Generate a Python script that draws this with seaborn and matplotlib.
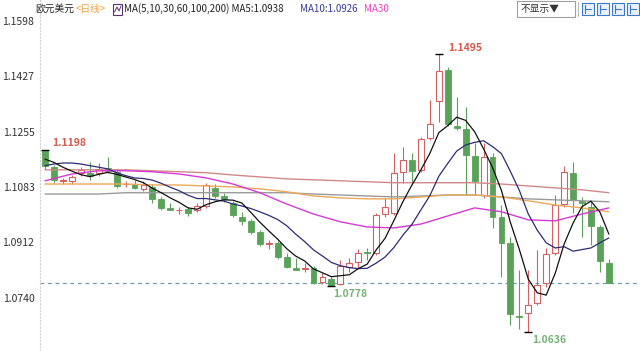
import numpy as np
import pandas as pd
import matplotlib
matplotlib.use("Agg")
import matplotlib.pyplot as plt
from matplotlib.patches import Rectangle
import seaborn as sns

# 日线 K 线数据
opens = [1.1196, 1.1146, 1.1101, 1.1103, 1.1128, 1.1128, 1.1128, 1.1143, 1.1131, 1.1092,
         1.1093, 1.1078, 1.1084, 1.1047, 1.1019, 1.1011, 1.1016, 1.1013, 1.1025, 1.1081,
         1.1056, 1.1034, 1.0991, 1.0979, 1.0945, 1.0907, 1.0911, 1.0867, 1.0833, 1.0831,
         1.0833, 1.0790, 1.0799, 1.0783, 1.0836, 1.0852, 1.0881, 1.0880, 1.1000, 1.1004,
         1.1131, 1.1168, 1.1137, 1.1236, 1.1351, 1.1447, 1.1273, 1.1264, 1.1180, 1.1059,
         1.1177, 1.0991, 1.0911, 1.0683, 1.0693, 1.0724, 1.0787, 1.0880, 1.1031, 1.1128,
         1.1041, 1.1022, 1.0960, 1.0849]
highs = [1.1198, 1.1152, 1.1112, 1.1121, 1.1146, 1.1162, 1.1159, 1.1177, 1.1140, 1.1103,
         1.1106, 1.1103, 1.1093, 1.1053, 1.1034, 1.1022, 1.1022, 1.1034, 1.1097, 1.1093,
         1.1066, 1.1041, 1.1007, 1.0985, 1.0951, 1.0920, 1.0917, 1.0880, 1.0864, 1.0849,
         1.0839, 1.0818, 1.0808, 1.0858, 1.0864, 1.0892, 1.0895, 1.1004, 1.1050, 1.1190,
         1.1208, 1.1190, 1.1239, 1.1354, 1.1495, 1.1456, 1.1363, 1.1332, 1.1221, 1.1221,
         1.1190, 1.1028, 1.0929, 1.0827, 1.0827, 1.0889, 1.0895, 1.1059, 1.1150, 1.1162,
         1.1053, 1.1038, 1.0966, 1.0861]
lows = [1.1140, 1.1097, 1.1093, 1.1093, 1.1118, 1.1106, 1.1118, 1.1128, 1.1081, 1.1084,
        1.1078, 1.1072, 1.1034, 1.1013, 1.1012, 1.1000, 1.0994, 1.1007, 1.1019, 1.1050,
        1.1038, 1.0991, 1.0966, 1.0938, 1.0901, 1.0892, 1.0861, 1.0833, 1.0827, 1.0821,
        1.0783, 1.0783, 1.0778, 1.0779, 1.0821, 1.0833, 1.0858, 1.0873, 1.0991, 1.0997,
        1.1097, 1.1100, 1.1131, 1.1230, 1.1286, 1.1273, 1.1261, 1.1059, 1.1059, 1.1050,
        1.0957, 1.0805, 1.0656, 1.0645, 1.0636, 1.0718, 1.0774, 1.0873, 1.1022, 1.1004,
        1.0929, 1.0904, 1.0821, 1.0785]
closes = [1.1149, 1.1106, 1.1104, 1.1115, 1.1137, 1.1118, 1.1140, 1.1134, 1.1087, 1.1094,
          1.1081, 1.1090, 1.1047, 1.1019, 1.1013, 1.1013, 1.1004, 1.1025, 1.1090, 1.1056,
          1.1047, 1.0997, 1.0979, 1.0945, 1.0907, 1.0911, 1.0867, 1.0836, 1.0827, 1.0833,
          1.0787, 1.0805, 1.0780, 1.0839, 1.0849, 1.0880, 1.0878, 1.0997, 1.1022, 1.1128,
          1.1168, 1.1134, 1.1233, 1.1279, 1.1444, 1.1279, 1.1267, 1.1183, 1.1103, 1.1177,
          1.0991, 1.0911, 1.0690, 1.0680, 1.0718, 1.0780, 1.0876, 1.1028, 1.1131, 1.1044,
          1.1035, 1.0963, 1.0855, 1.0787]

# 均线 (逐日读取)
ma5 = [1.1170, 1.1160, 1.1145, 1.1133, 1.1122, 1.1116, 1.1123, 1.1129, 1.1123, 1.1115,
       1.1107, 1.1097, 1.1080, 1.1066, 1.1050, 1.1036, 1.1019, 1.1015, 1.1029, 1.1038,
       1.1044, 1.1043, 1.1034, 1.1005, 1.0975, 1.0948, 1.0922, 1.0893, 1.0870, 1.0855,
       1.0830, 1.0818, 1.0806, 1.0809, 1.0812, 1.0831, 1.0845, 1.0889, 1.0925, 1.0981,
       1.1039, 1.1090, 1.1137, 1.1188, 1.1252, 1.1274, 1.1300, 1.1290, 1.1255, 1.1202,
       1.1144, 1.1073, 1.0974, 1.0890, 1.0798, 1.0756, 1.0749, 1.0816, 1.0907, 1.0972,
       1.1023, 1.1040, 1.1006, 1.0938]
ma10 = [1.1150, 1.1155, 1.1158, 1.1158, 1.1155, 1.1150, 1.1145, 1.1140, 1.1128, 1.1119,
        1.1112, 1.1110, 1.1105, 1.1095, 1.1083, 1.1072, 1.1058, 1.1048, 1.1048, 1.1044,
        1.1040, 1.1031, 1.1025, 1.1017, 1.1007, 1.0996, 1.0983, 1.0964, 1.0938, 1.0915,
        1.0889, 1.0870, 1.0850, 1.0840, 1.0834, 1.0831, 1.0832, 1.0848, 1.0867, 1.0897,
        1.0935, 1.0968, 1.1013, 1.1057, 1.1117, 1.1157, 1.1195, 1.1214, 1.1222, 1.1227,
        1.1209, 1.1187, 1.1132, 1.1073, 1.1000, 1.0950, 1.0911, 1.0895, 1.0899, 1.0885,
        1.0890, 1.0895, 1.0911, 1.0926]

# 长周期均线, 每三个交易日读一次
long_days = [0, 3, 6, 9, 12, 15, 18, 21, 24, 27, 30, 33, 36, 39, 42, 45, 48, 51, 54, 57, 60, 63]
ma30 = [1.1103, 1.1124, 1.1134, 1.1134, 1.1131, 1.1124, 1.1112, 1.1093, 1.1066, 1.1031, 1.1000,
        1.0976, 1.0960, 1.0957, 1.0969, 1.0994, 1.1019, 1.1007, 1.0982, 1.0979, 1.1000, 1.1019]
ma60 = [1.1093, 1.1093, 1.1093, 1.1093, 1.1090, 1.1090, 1.1087, 1.1084, 1.1078, 1.1069, 1.1056,
        1.1050, 1.1047, 1.1047, 1.1053, 1.1059, 1.1059, 1.1053, 1.1041, 1.1028, 1.1019, 1.1007]
ma100 = [1.1062, 1.1062, 1.1062, 1.1066, 1.1066, 1.1066, 1.1066, 1.1066, 1.1066, 1.1066, 1.1062,
         1.1059, 1.1056, 1.1053, 1.1056, 1.1059, 1.1059, 1.1053, 1.1047, 1.1044, 1.1041, 1.1038]
ma200 = [1.1137, 1.1137, 1.1137, 1.1137, 1.1134, 1.1131, 1.1128, 1.1121, 1.1115, 1.1109, 1.1106,
         1.1103, 1.1100, 1.1097, 1.1097, 1.1097, 1.1097, 1.1093, 1.1087, 1.1081, 1.1075, 1.1066]

ytick_vals = [1.0740, 1.0912, 1.1083, 1.1255, 1.1427, 1.1598]
marked_days = [0, 32, 44, 54]   # 标注的高/低点
last_price = closes[-1]

UP = "#d26262"
DOWN = "#5aa25a"

sns.set_style("white")
plt.rcParams["font.family"] = ["Noto Sans CJK SC", "DejaVu Sans"]

W, H = 640, 351
fig = plt.figure(figsize=(W / 100, H / 100), dpi=100)
ax = fig.add_axes([40 / W, 0, 600 / W, 1])

days = np.arange(len(closes))
o = np.array(opens)
c = np.array(closes)
up = c >= o

# 影线
ax.vlines(days[up], np.array(lows)[up], np.array(highs)[up], color=UP, lw=0.8, zorder=2)
ax.vlines(days[~up], np.array(lows)[~up], np.array(highs)[~up], color=DOWN, lw=0.8, zorder=2)
# 实体
body_lo = np.minimum(o, c)
body_h = np.maximum(np.abs(c - o), 0.00012)
ax.bar(days[up], body_h[up], bottom=body_lo[up], width=0.66, facecolor="white",
       edgecolor=UP, linewidth=0.8, zorder=3)
ax.bar(days[~up], body_h[~up], bottom=body_lo[~up], width=0.66, facecolor=DOWN,
       edgecolor=DOWN, linewidth=0.6, zorder=3)

# 均线
sns.lineplot(x=long_days, y=ma200, ax=ax, color="#cf8a88", lw=1.0, zorder=4)
sns.lineplot(x=long_days, y=ma100, ax=ax, color="#9a9a9a", lw=1.0, zorder=4)
sns.lineplot(x=long_days, y=ma60, ax=ax, color="#eba95a", lw=1.0, zorder=4)
sns.lineplot(x=long_days, y=ma30, ax=ax, color="#d63ad6", lw=1.0, zorder=4)
sns.lineplot(x=days, y=ma10, ax=ax, color="#2c2c78", lw=0.9, zorder=5)
sns.lineplot(x=days, y=ma5, ax=ax, color="#111111", lw=0.9, zorder=5)

# 最新价虚线
ax.axhline(last_price, color="#6e9bb2", lw=0.9, ls=(0, (3, 3)), zorder=1)

# 高低点标注
for d in marked_days:
    is_high = d in (0, 44)
    val = highs[d] if is_high else lows[d]
    ax.plot([d], [val], marker="_", ms=6, mew=1.0, color="black", zorder=6)
    if is_high:
        ax.annotate(f"{val:.4f}", (d, val), xytext=(5 if d == 0 else 6.5, 1.2),
                    textcoords="offset points", ha="left", va="bottom",
                    fontsize=7.5, fontweight="bold", color="#d55a4c")
    else:
        ax.annotate(f"{val:.4f}", (d, val), xytext=(1.5 if d == 32 else 2.5, -2.5),
                    textcoords="offset points", ha="left", va="top",
                    fontsize=7.5, fontweight="bold", color="#77b277")

ax.set_xlim(-0.56, -0.56 + 600 / 8.95)
ax.set_ylim(1.0740 - 53 * 0.0003097, 1.0740 + 298 * 0.0003097)
ax.set_yticks(ytick_vals)
ax.set_yticklabels([f"{v:.4f}" for v in ytick_vals])
ax.set_xticks([])
ax.tick_params(axis="y", labelsize=7.5, labelcolor="#333333", length=3, color="#999999", pad=1)
for side in ["top", "right", "bottom"]:
    ax.spines[side].set_visible(False)
ax.spines["left"].set_color("#d0d0d0")
ax.spines["left"].set_linestyle((0, (1, 2)))
ax.set_xlabel("")
ax.set_ylabel("")

# 顶部图例栏
ty = 1 - 9 / H
fs = 7
fig.text(35 / W, ty, "欧元美元", fontsize=fs, color="#222222", va="center")
fig.text(76 / W, ty, "<日线>", fontsize=fs, color="#f0a040", va="center")
fig.patches.append(Rectangle((113 / W, 1 - 15 / H), 9 / W, 11 / H, transform=fig.transFigure,
                             facecolor="white", edgecolor="#553377", lw=0.8))
fig.lines.append(plt.Line2D([114.5 / W, 117 / W, 119 / W, 121 / W],
                            [1 - 12 / H, 1 - 7 / H, 1 - 11 / H, 1 - 6 / H],
                            transform=fig.transFigure, color="#553377", lw=0.7))
fig.text(124 / W, ty, "MA(5,10,30,60,100,200) MA5:1.0938", fontsize=fs, color="#222222", va="center")
fig.text(300 / W, ty, "MA10:1.0926", fontsize=fs, color="#3a3a9a", va="center")
fig.text(364 / W, ty, "MA30", fontsize=fs, color="#f040c8", va="center")

# 右上角按钮
fig.patches.append(Rectangle((517 / W, 1 - 17 / H), 58 / W, 16 / H, transform=fig.transFigure,
                             facecolor="white", edgecolor="#a0a0a0", lw=0.8))
fig.text(521 / W, ty, "不显示▼", fontsize=fs, color="#333333", va="center")
fig.lines.append(plt.Line2D([578 / W, 578 / W], [1 - 16 / H, 1 - 2 / H],
                            transform=fig.transFigure, color="#bbbbbb", lw=0.8))
for x0 in [582, 597, 612, 627]:
    fig.patches.append(Rectangle((x0 / W, 1 - 15 / H), 12 / W, 12 / H, transform=fig.transFigure,
                                 facecolor="#eaf1fb", edgecolor="#3b78c8", lw=0.8))
    fig.lines.append(plt.Line2D([(x0 + 3) / W, (x0 + 3) / W], [1 - 13 / H, 1 - 5 / H],
                                transform=fig.transFigure, color="#3b78c8", lw=0.8))
    fig.lines.append(plt.Line2D([(x0 + 3) / W, (x0 + 9) / W], [1 - 9 / H, 1 - 9 / H],
                                transform=fig.transFigure, color="#3b78c8", lw=0.8))

fig.savefig("out.png", dpi=100)
